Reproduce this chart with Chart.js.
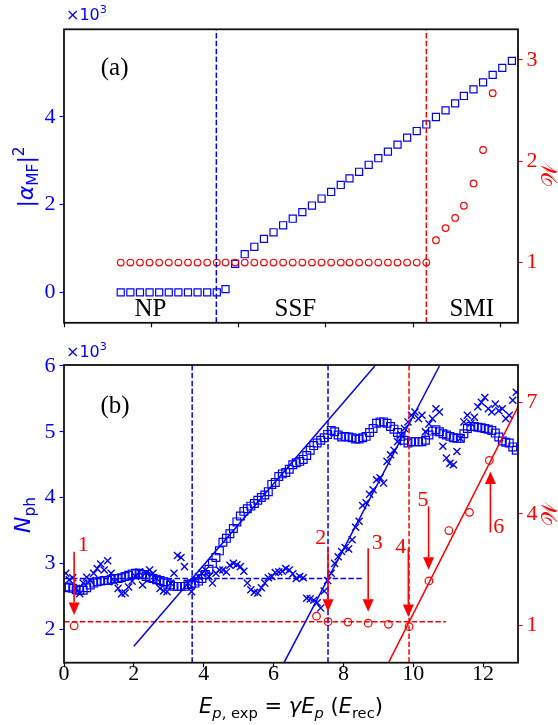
<!DOCTYPE html>
<html>
<head>
<meta charset="utf-8">
<script src="https://cdn.jsdelivr.net/npm/chart.js@4.4.1/dist/chart.umd.min.js"></script>
<style>
  body { margin: 0; background: #fff; }
  #wrap { position: relative; width: 558px; height: 725px; }
  canvas { position: absolute; left: 0; }
  #topChart { top: 0; }
  #bottomChart { top: 340px; }
</style>
</head>
<body>
<div id="wrap">
  <canvas id="topChart" width="558" height="340"></canvas>
  <canvas id="bottomChart" width="558" height="385"></canvas>
</div>
<script>
// ---- panel (a): mean-field sweep ----
const meanFieldX = [0.65, 0.76, 0.87, 0.98, 1.09, 1.20, 1.31, 1.42, 1.53, 1.64,
                    1.75, 1.85, 1.96, 2.07, 2.18, 2.29, 2.40, 2.51, 2.62, 2.73,
                    2.84, 2.95, 3.06, 3.17, 3.27, 3.38, 3.49, 3.60, 3.71, 3.82,
                    3.93, 4.04, 4.15, 4.26, 4.37, 4.48, 4.58, 4.69, 4.80, 4.91,
                    5.02, 5.13, 5.24];
// |alpha_MF|^2 in units of 10^3
const alphaSquared = [0, 0, 0, 0, 0, 0, 0, 0, 0, 0,
                      0, 0.075, 0.65, 0.87, 1.04, 1.22, 1.37, 1.53, 1.68, 1.83,
                      1.98, 2.14, 2.29, 2.45, 2.60, 2.75, 2.91, 3.06, 3.21, 3.37,
                      3.53, 3.68, 3.83, 4.00, 4.15, 4.31, 4.48, 4.63, 4.79, 4.96,
                      5.12, 5.28, 5.46];
const meanFieldW = [1, 1, 1, 1, 1, 1, 1, 1, 1, 1,
                    1, 1, 1, 1, 1, 1, 1, 1, 1, 1,
                    1, 1, 1, 1, 1, 1, 1, 1, 1, 1,
                    1, 1, 1, 1.22, 1.34, 1.44, 1.56, 1.78, 2.11, 2.67];
const phaseLinesA = [1.745, 4.15];
const regionNames = ['NP', 'SSF', 'SMI'];
const regionX = [0.99, 2.65, 4.67];
const regionY = -0.39;
const topXTicks = [0, 1, 2, 3, 4, 5];
const topLeftTicks = [0, 2, 4];
const topRightTicks = [1, 2, 3];
const topXMax = 5.2;
const topLeftMin = -0.694, topLeftMax = 6.0;
const topRightMin = 0.406, topRightMax = 3.30;

// ---- panel (b): experiment ----
const sweepX = [0.05, 0.15, 0.25, 0.35, 0.45, 0.55, 0.65, 0.75, 0.85, 0.95,
                1.05, 1.15, 1.25, 1.35, 1.45, 1.55, 1.65, 1.75, 1.85, 1.95,
                2.05, 2.15, 2.25, 2.35, 2.45, 2.55, 2.65, 2.75, 2.85, 2.95,
                3.05, 3.15, 3.25, 3.35, 3.45, 3.55, 3.65, 3.75, 3.85, 3.95,
                4.05, 4.15, 4.25, 4.35, 4.45, 4.55, 4.65, 4.75, 4.85, 4.95,
                5.05, 5.15, 5.25, 5.35, 5.45, 5.55, 5.65, 5.75, 5.85, 5.95,
                6.05, 6.15, 6.25, 6.35, 6.45, 6.55, 6.65, 6.75, 6.85, 6.95,
                7.05, 7.15, 7.25, 7.35, 7.45, 7.55, 7.65, 7.75, 7.85, 7.95,
                8.05, 8.15, 8.25, 8.35, 8.45, 8.55, 8.65, 8.75, 8.85, 8.95,
                9.05, 9.15, 9.25, 9.35, 9.45, 9.55, 9.65, 9.75, 9.85, 9.95,
                10.05, 10.15, 10.25, 10.35, 10.45, 10.55, 10.65, 10.75, 10.85, 10.95,
                11.05, 11.15, 11.25, 11.35, 11.45, 11.55, 11.65, 11.75, 11.85, 11.95,
                12.05, 12.15, 12.25, 12.35, 12.45, 12.55, 12.65, 12.75, 12.85, 12.95];
// N_ph in units of 10^3
const photonSquares = [2.63, 2.64, 2.62, 2.60, 2.59, 2.59, 2.63, 2.67, 2.70, 2.72,
                       2.73, 2.74, 2.74, 2.76, 2.77, 2.77, 2.78, 2.80, 2.82, 2.84,
                       2.85, 2.85, 2.83, 2.80, 2.78, 2.77, 2.75, 2.74, 2.72, 2.70,
                       2.67, 2.65, 2.65, 2.65, 2.65, 2.68, 2.69, 2.70, 2.73, 2.77,
                       2.83, 2.91, 3.00, 3.09, 3.19, 3.32, 3.38, 3.45, 3.53, 3.63,
                       3.72, 3.79, 3.83, 3.87, 3.91, 3.96, 4.00, 4.04, 4.09, 4.20,
                       4.23, 4.32, 4.36, 4.38, 4.43, 4.50, 4.53, 4.55, 4.58, 4.64,
                       4.72, 4.79, 4.83, 4.87, 4.91, 4.96, 5.02, 5.00, 4.95, 4.92,
                       4.93, 4.92, 4.91, 4.89, 4.89, 4.91, 4.93, 4.99, 5.05, 5.13,
                       5.15, 5.15, 5.13, 5.08, 5.04, 4.99, 4.93, 4.87, 4.83, 4.85,
                       4.85, 4.85, 4.85, 4.87, 4.95, 5.01, 5.03, 5.00, 4.97, 4.95,
                       4.93, 4.91, 4.90, 4.90, 4.97, 5.05, 5.08, 5.08, 5.07, 5.06,
                       5.05, 5.04, 5.02, 4.98, 4.92, 4.86, 4.84, 4.83, 4.77, 4.72];
const photonCrosses = [2.85, 2.75, 2.78, 2.62, 2.54, 2.70, 2.79, 2.74, 2.85, 2.92,
                       2.99, 2.90, 3.04, 2.85, 2.72, 2.62, 2.54, 2.55, 2.64, 2.73,
                       2.80, 2.87, 2.67, 2.86, 2.90, 2.85, 2.77, 2.62, 2.58, 2.57,
                       2.70, 2.85, 3.12, 3.09, 2.95, 2.70, 2.57, 2.75, 2.80, 2.85,
                       2.90, 2.80, 2.70, 2.85, 2.90, 2.90, 2.87, 2.97, 3.00, 2.98,
                       2.95, 2.88, 2.70, 2.60, 2.56, 2.55, 2.63, 2.70, 2.78, 2.80,
                       2.86, 2.87, 2.88, 2.92, 2.90, 2.84, 2.77, 2.80, 2.78, 2.47,
                       2.46, 2.44, 2.40, 2.32, 2.58, 2.74, 2.85, 3.00, 3.10, 3.18,
                       3.24, 3.22, 3.36, 3.55, 3.64, 3.88, 3.92, 4.05, 4.12, 4.27,
                       4.30, 4.22, 4.55, 4.65, 4.72, 4.85, 4.95, 5.05, 5.15, 5.25,
                       5.30, 5.20, 5.25, 5.00, 5.12, 5.20, 5.35, 5.30, 4.78, 4.60,
                       4.52, 4.50, 4.70, 4.90, 5.15, 5.25, 5.13, 5.22, 5.38, 5.45,
                       5.52, 5.35, 5.30, 5.42, 5.32, 5.35, 5.20, 5.25, 5.48, 5.60];
const probeX = [0.29, 7.23, 7.56, 8.13, 8.71, 9.29, 9.88, 10.45, 11.02, 11.61, 12.18];
const probeW = [0.98, 1.24, 1.09, 1.08, 1.05, 1.02, 0.955, 2.19, 3.55, 4.04, 5.44];
const fitOneX = [2.0, 8.9], fitOneY = [1.74, 6.0];
const fitTwoX = [6.3, 10.75], fitTwoY = [1.49, 6.0];
const fitWX = [9.3, 13.0], fitWY = [0, 6.89];
const blueLevelX = [0, 8.59], blueLevel = 2.77;
const redLevelX = [0, 10.94], redLevel = 1.09;
const blueLinesB = [3.67, 7.56];
const redLinesB = [9.88];
const arrowX = [0.29, 7.56, 8.71, 9.86, 10.44, 12.21];
const arrowTail = [2.98, 3.07, 3.07, 3.07, 4.20, 3.50];
const arrowTip = [1.27, 1.36, 1.36, 1.22, 2.49, 5.14];
const arrowNames = ['1', '2', '3', '4', '5', '6'];
const arrowNameX = [0.55, 7.35, 8.97, 9.64, 10.28, 12.45];
const arrowNameY = [3.16, 3.34, 3.22, 3.10, 4.36, 3.64];
const botXTicks = [0, 2, 4, 6, 8, 10, 12];
const botLeftTicks = [2, 3, 4, 5, 6];
const botRightTicks = [1, 4, 7];
const botLeftMin = 1.49, botLeftMax = 6.015;
const botRightMin = -0.016, botRightMax = 8.016;

const blue = '#0000ff';
const red = '#ff0000';
const serif = "'Liberation Serif', 'Times New Roman', serif";
const sans = "'DejaVu Sans', sans-serif";
const dash = [5.5, 2.4];

function pts(xs, ys) {
    return ys.map((y, i) => ({ x: xs[i], y }));
}

function segment(xs, ys, color, axis, dashed) {
    return {
        data: pts(xs, ys), yAxisID: axis, showLine: true, pointRadius: 0,
        borderColor: color, borderWidth: 1.5, borderDash: dashed ? dash : [], clip: 0
    };
}

function markers(xs, ys, color, axis, style, radius, width) {
    return {
        data: pts(xs, ys), yAxisID: axis, pointStyle: style, pointRadius: radius,
        borderColor: color, backgroundColor: 'rgba(0,0,0,0)', borderWidth: width || 1.2, clip: 0
    };
}

function axisX(max, ticks, height, labels) {
    return {
        type: 'linear', position: 'bottom', min: 0, max,
        afterBuildTicks: s => { s.ticks = ticks.map(v => ({ value: v })); },
        afterFit: s => { s.height = height; },
        grid: { drawOnChartArea: false, tickLength: 4.5, tickColor: '#000', tickWidth: 1.2 },
        border: { display: false },
        ticks: { display: labels, color: '#000', font: { family: serif, size: 22 }, padding: -6, maxRotation: 0, autoSkip: false }
    };
}

function axisY(pos, min, max, ticks, color, width) {
    return {
        type: 'linear', position: pos, min, max,
        afterBuildTicks: s => { s.ticks = ticks.map(v => ({ value: v })); },
        afterFit: s => { s.width = width; },
        grid: { drawOnChartArea: false, tickLength: 4.5, tickColor: color, tickWidth: 1.2 },
        border: { display: false },
        ticks: { color, font: { family: serif, size: 22 }, padding: 4, autoSkip: false }
    };
}

// text runs: [text, style] with style containing 'it', 'sub' or 'sup'
function drawRich(ctx, parts, x, y, size, color, align) {
    ctx.save();
    ctx.fillStyle = color;
    ctx.textBaseline = 'alphabetic';
    ctx.textAlign = 'left';
    const runs = parts.map(([text, style]) => {
        const small = style.includes('sub') || style.includes('sup');
        const fs = small ? size * 0.7 : size;
        const font = (style.includes('it') ? 'italic ' : '') + fs + 'px ' + sans;
        ctx.font = font;
        const dy = style.includes('sub') ? size * 0.22 : (style.includes('sup') ? -size * 0.42 : 0);
        return { text, font, dy, w: ctx.measureText(text).width };
    });
    const total = runs.reduce((s, r) => s + r.w, 0);
    let cx = align === 'center' ? x - total / 2 : x;
    runs.forEach(r => {
        ctx.font = r.font;
        ctx.fillText(r.text, cx, y + r.dy);
        cx += r.w;
    });
    ctx.restore();
}

function drawRotated(ctx, parts, x, y, size, color) {
    ctx.save();
    ctx.translate(x, y);
    ctx.rotate(-Math.PI / 2);
    drawRich(ctx, parts, 0, 0, size, color, 'center');
    ctx.restore();
}

function drawFrame(ctx, a) {
    ctx.save();
    ctx.strokeStyle = '#111';
    ctx.lineWidth = 1.8;
    ctx.strokeRect(a.left, a.top, a.right - a.left, a.bottom - a.top);
    ctx.restore();
}

function drawArrow(ctx, x, y0, y1) {
    const dir = Math.sign(y1 - y0);
    const headLen = 12.5, headHalf = 5.5;
    ctx.beginPath();
    ctx.moveTo(x, y0);
    ctx.lineTo(x, y1 - dir * headLen);
    ctx.stroke();
    ctx.beginPath();
    ctx.moveTo(x, y1);
    ctx.lineTo(x - headHalf, y1 - dir * headLen);
    ctx.lineTo(x + headHalf, y1 - dir * headLen);
    ctx.closePath();
    ctx.fill();
}

const exponentParts = [['×10', ''], ['3', 'sup']];
const alphaLabel = [['|', ''], ['α', 'it'], ['MF', 'sub'], ['|', ''], ['2', 'sup']];
const nphLabel = [['N', 'it'], ['ph', 'sub']];
const wLabel = [['\u{1D4B2}', '']];
const xTitle = [['E', 'it'], ['p', 'itsub'], [', exp', 'sub'], [' = ', ''], ['γ', 'it'], ['E', 'it'],
                ['p', 'itsub'], [' (', ''], ['E', 'it'], ['rec', 'sub'], [')', '']];

const panelAOverlay = {
    id: 'panelAOverlay',
    afterDraw(chart) {
        const { ctx, chartArea: area, scales: { x, y } } = chart;
        drawFrame(ctx, area);
        ctx.save();
        ctx.fillStyle = '#000';
        ctx.font = '25px ' + serif;
        ctx.textAlign = 'center';
        ctx.textBaseline = 'middle';
        ctx.fillText('(a)', x.getPixelForValue(0.58), y.getPixelForValue(5.11));
        regionNames.forEach((name, i) => {
            ctx.fillText(name, x.getPixelForValue(regionX[i]), y.getPixelForValue(regionY));
        });
        ctx.restore();
        drawRich(ctx, exponentParts, area.left + 2, area.top - 9.5, 16, blue, 'left');
        drawRotated(ctx, alphaLabel, 33, 177, 22, blue);
        drawRotated(ctx, wLabel, 557, 175, 22, red);
    }
};

const panelBOverlay = {
    id: 'panelBOverlay',
    afterDraw(chart) {
        const { ctx, chartArea: area, scales: { x, y, y1 } } = chart;
        drawFrame(ctx, area);
        ctx.save();
        ctx.strokeStyle = red;
        ctx.fillStyle = red;
        ctx.lineWidth = 1.6;
        arrowX.forEach((v, i) => {
            drawArrow(ctx, x.getPixelForValue(v), y1.getPixelForValue(arrowTail[i]), y1.getPixelForValue(arrowTip[i]));
        });
        ctx.font = '22px ' + serif;
        ctx.textAlign = 'center';
        ctx.textBaseline = 'middle';
        arrowNames.forEach((name, i) => {
            ctx.fillText(name, x.getPixelForValue(arrowNameX[i]), y1.getPixelForValue(arrowNameY[i]));
        });
        ctx.fillStyle = '#000';
        ctx.font = '25px ' + serif;
        ctx.fillText('(b)', x.getPixelForValue(1.46), y.getPixelForValue(5.38));
        ctx.restore();
        drawRich(ctx, exponentParts, area.left + 2, area.top - 8.5, 16, blue, 'left');
        drawRotated(ctx, nphLabel, 30, 175, 22, blue);
        drawRotated(ctx, wLabel, 557, 174, 22, red);
        drawRich(ctx, xTitle, (area.left + area.right) / 2, 373, 21, '#000', 'center');
    }
};

const common = {
    responsive: false,
    animation: false,
    events: [],
    plugins: { legend: { display: false }, tooltip: { enabled: false } }
};

new Chart(document.getElementById('topChart'), {
    type: 'scatter',
    data: {
        datasets: [
            segment([phaseLinesA[0], phaseLinesA[0]], [topLeftMin, topLeftMax], blue, 'y', true),
            segment([phaseLinesA[1], phaseLinesA[1]], [topLeftMin, topLeftMax], red, 'y', true),
            markers(meanFieldX, meanFieldW, red, 'y1', 'circle', 3.3),
            markers(meanFieldX, alphaSquared, blue, 'y', 'rect', 5)
        ]
    },
    options: {
        ...common,
        layout: { padding: { top: 29.3, left: 0, right: 0, bottom: 0 } },
        scales: {
            x: axisX(topXMax, topXTicks, 15, false),
            y: axisY('left', topLeftMin, topLeftMax, topLeftTicks, blue, 64),
            y1: axisY('right', topRightMin, topRightMax, topRightTicks, red, 40)
        }
    },
    plugins: [panelAOverlay]
});

new Chart(document.getElementById('bottomChart'), {
    type: 'scatter',
    data: {
        datasets: [
            segment(fitOneX, fitOneY, blue, 'y', false),
            segment(fitTwoX, fitTwoY, blue, 'y', false),
            segment(fitWX, fitWY, red, 'y1', false),
            segment(blueLevelX, [blueLevel, blueLevel], blue, 'y', true),
            segment(redLevelX, [redLevel, redLevel], red, 'y1', true),
            segment([blueLinesB[0], blueLinesB[0]], [botLeftMin, botLeftMax], blue, 'y', true),
            segment([blueLinesB[1], blueLinesB[1]], [botLeftMin, botLeftMax], blue, 'y', true),
            segment([redLinesB[0], redLinesB[0]], [botLeftMin, botLeftMax], red, 'y', true),
            markers(probeX, probeW, red, 'y1', 'circle', 3.8),
            markers(sweepX, photonSquares, blue, 'y', 'rect', 5.5),
            markers(sweepX, photonCrosses, blue, 'y', 'crossRot', 5, 1.4)
        ]
    },
    options: {
        ...common,
        layout: { padding: { top: 25, left: 0, right: 0, bottom: 0 } },
        scales: {
            x: axisX(13, botXTicks, 62.3, true),
            y: axisY('left', botLeftMin, botLeftMax, botLeftTicks, blue, 64),
            y1: axisY('right', botRightMin, botRightMax, botRightTicks, red, 40)
        }
    },
    plugins: [panelBOverlay]
});
</script>
</body>
</html>
